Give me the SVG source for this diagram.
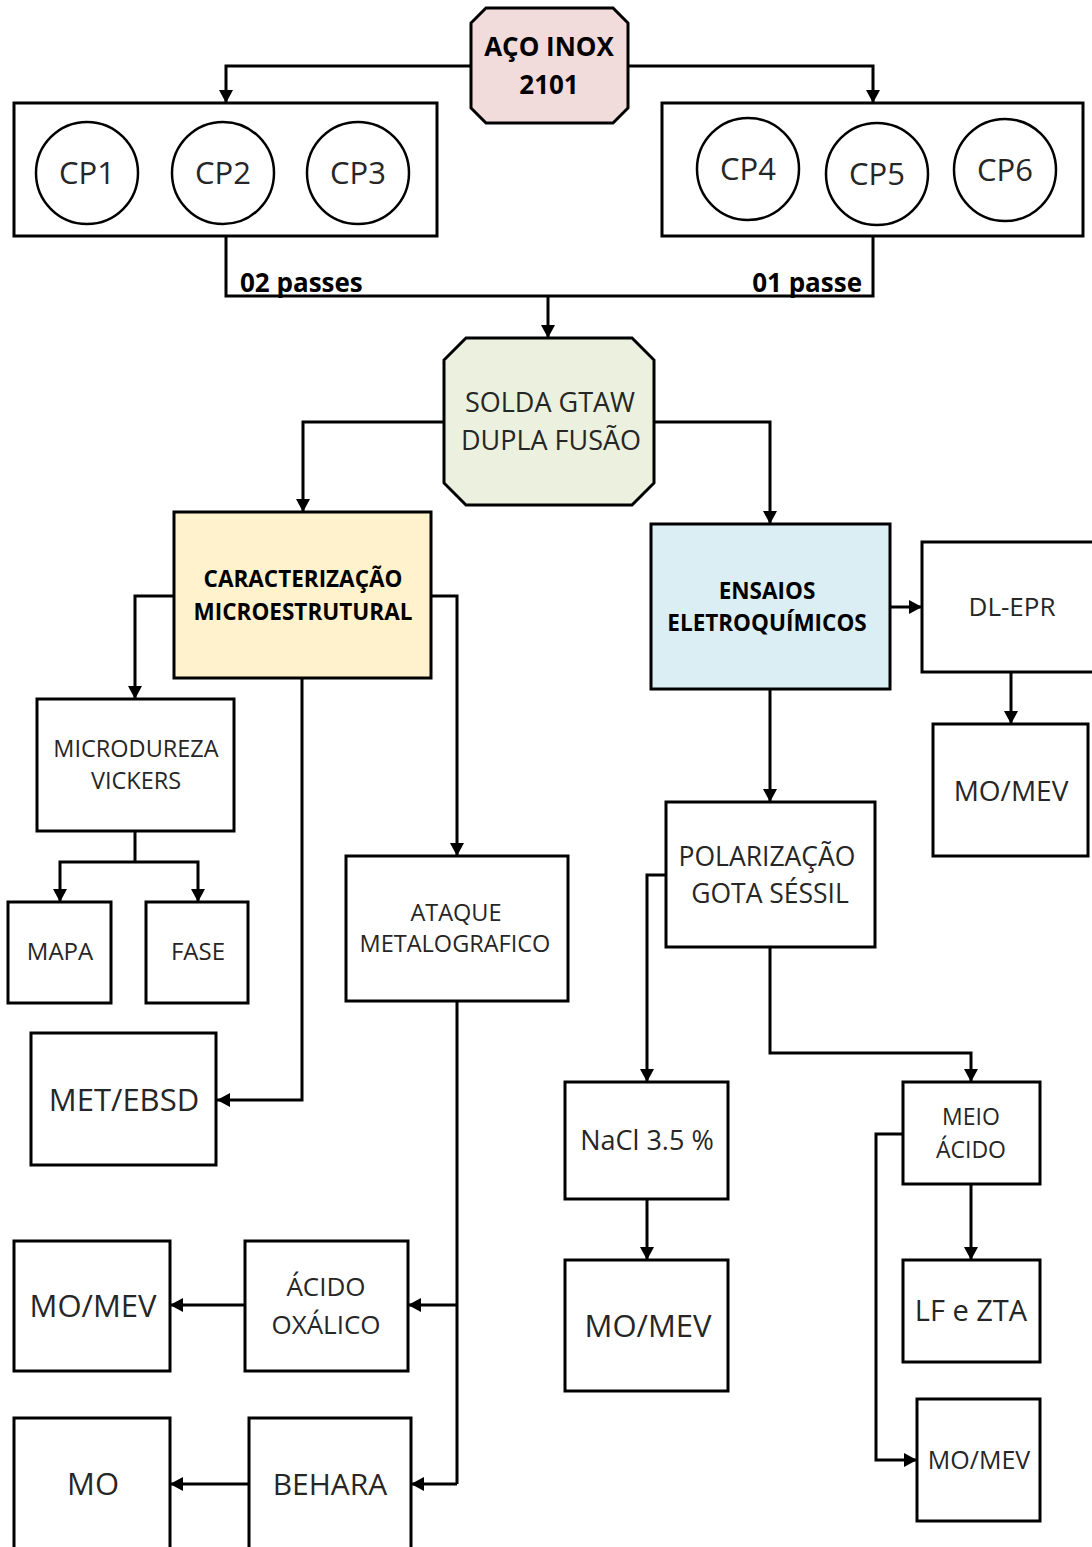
<svg xmlns="http://www.w3.org/2000/svg" width="1092" height="1547" viewBox="0 0 1092 1547">
<defs>
<marker id="ah" markerUnits="userSpaceOnUse" markerWidth="14" markerHeight="14" refX="13" refY="7" orient="auto">
<path d="M0,0 L13,7 L0,14 z" fill="#000"/>
</marker>
<style>
.box{fill:#fff;stroke:#000;stroke-width:3}
.circ{fill:#fff;stroke:#000;stroke-width:2.5}
.ln{fill:none;stroke:#000;stroke-width:3}
.arr{fill:none;stroke:#000;stroke-width:3;marker-end:url(#ah)}
.t{font-family:"Open Sans","Liberation Sans",sans-serif;fill:#262626;text-anchor:middle}
.b{font-family:"Open Sans","Liberation Sans",sans-serif;fill:#000;font-weight:bold;text-anchor:middle}
</style>
</defs>
<rect width="1092" height="1547" fill="#fff"/>
<g id="connectors">
<path class="arr" d="M471,66 H226 V103"/>
<path class="arr" d="M628,66 H873 V103"/>
<path class="ln" d="M226,236 V296 H873 V236"/>
<path class="arr" d="M548,296 V338"/>
<path class="arr" d="M444,422 H303 V512"/>
<path class="arr" d="M654,422 H770 V524"/>
<path class="arr" d="M174,596 H135 V699"/>
<path class="arr" d="M431,596 H457 V856"/>
<path class="arr" d="M302,678 V1100 H217"/>
<path class="ln" d="M135,831 V862"/>
<path class="arr" d="M135,862 H60 V902"/>
<path class="arr" d="M135,862 H198 V902"/>
<path class="ln" d="M457,1001 V1484"/>
<path class="arr" d="M457,1305 H408"/>
<path class="arr" d="M457,1484 H411"/>
<path class="arr" d="M245,1305 H170"/>
<path class="arr" d="M249,1484 H170"/>
<path class="arr" d="M890,607 H922"/>
<path class="arr" d="M1011,672 V724"/>
<path class="arr" d="M770,689 V802"/>
<path class="arr" d="M666,875 H647 V1082"/>
<path class="arr" d="M770,947 V1053 H971 V1082"/>
<path class="arr" d="M647,1199 V1260"/>
<path class="arr" d="M971,1184 V1260"/>
<path class="arr" d="M903,1134 H876 V1460 H917"/>
</g>
<g id="aco">
<polygon points="486,8 613,8 628,23 628,108 613,123 486,123 471,108 471,23" fill="#f2dcdb" stroke="#000" stroke-width="3"/>
<text class="b" x="549" y="56" font-size="26">AÇO INOX</text>
<text class="b" x="549" y="94" font-size="26">2101</text>
</g>
<g id="grupo1">
<rect class="box" x="14" y="103" width="423" height="133"/>
</g>
<g id="cp1"><circle class="circ" cx="87" cy="173" r="51"/><text class="t" x="87" y="184" font-size="31">CP1</text></g>
<g id="cp2"><circle class="circ" cx="223" cy="173" r="51"/><text class="t" x="223" y="184" font-size="31">CP2</text></g>
<g id="cp3"><circle class="circ" cx="358" cy="173" r="51"/><text class="t" x="358" y="184" font-size="31">CP3</text></g>
<g id="grupo2">
<rect class="box" x="662" y="103" width="421" height="133"/>
</g>
<g id="cp4"><circle class="circ" cx="748" cy="169" r="51"/><text class="t" x="748" y="180" font-size="31">CP4</text></g>
<g id="cp5"><circle class="circ" cx="877" cy="174" r="51"/><text class="t" x="877" y="185" font-size="31">CP5</text></g>
<g id="cp6"><circle class="circ" cx="1005" cy="170" r="51"/><text class="t" x="1005" y="181" font-size="31">CP6</text></g>
<g id="labels">
<text class="b" x="240" y="292" font-size="26" style="text-anchor:start">02 passes</text>
<text class="b" x="862" y="292" font-size="26" style="text-anchor:end">01 passe</text>
</g>
<g id="solda">
<polygon points="466,338 632,338 654,360 654,483 632,505 466,505 444,483 444,360" fill="#ebf1de" stroke="#000" stroke-width="3"/>
<text class="t" x="550" y="412" font-size="27">SOLDA GTAW</text>
<text class="t" x="551" y="450" font-size="27">DUPLA FUSÃO</text>
</g>
<g id="caracterizacao">
<rect x="174" y="512" width="257" height="166" fill="#fff2cc" stroke="#000" stroke-width="3"/>
<text class="b" x="303" y="587" font-size="22.5">CARACTERIZAÇÃO</text>
<text class="b" x="303" y="620" font-size="22.5">MICROESTRUTURAL</text>
</g>
<g id="microdureza">
<rect class="box" x="37" y="699" width="197" height="132"/>
<text class="t" x="136" y="757" font-size="23.5">MICRODUREZA</text>
<text class="t" x="136" y="789" font-size="23.5">VICKERS</text>
</g>
<g id="mapa">
<rect class="box" x="8" y="902" width="103" height="101"/>
<text class="t" x="60" y="960" font-size="24">MAPA</text>
</g>
<g id="fase">
<rect class="box" x="146" y="902" width="102" height="101"/>
<text class="t" x="198" y="960" font-size="24">FASE</text>
</g>
<g id="metebsd">
<rect class="box" x="31" y="1033" width="185" height="132"/>
<text class="t" x="124" y="1111" font-size="31">MET/EBSD</text>
</g>
<g id="ataque">
<rect class="box" x="346" y="856" width="222" height="145"/>
<text class="t" x="456" y="921" font-size="23.5">ATAQUE</text>
<text class="t" x="455" y="952" font-size="23.5">METALOGRAFICO</text>
</g>
<g id="acido-oxalico">
<rect class="box" x="245" y="1241" width="163" height="130"/>
<text class="t" x="326" y="1296" font-size="26">ÁCIDO</text>
<text class="t" x="326" y="1334" font-size="26">OXÁLICO</text>
</g>
<g id="momev1">
<rect class="box" x="14" y="1241" width="156" height="130"/>
<text class="t" x="93" y="1317" font-size="31">MO/MEV</text>
</g>
<g id="behara">
<rect class="box" x="249" y="1418" width="162" height="145"/>
<text class="t" x="330" y="1495" font-size="30">BEHARA</text>
</g>
<g id="mo">
<rect class="box" x="14" y="1418" width="156" height="145"/>
<text class="t" x="93" y="1495" font-size="31">MO</text>
</g>
<g id="ensaios">
<rect x="651" y="524" width="239" height="165" fill="#dbeef4" stroke="#000" stroke-width="3"/>
<text class="b" x="767" y="599" font-size="22.5">ENSAIOS</text>
<text class="b" x="767" y="631" font-size="22.5">ELETROQUÍMICOS</text>
</g>
<g id="dlepr">
<rect class="box" x="922" y="542" width="180" height="130"/>
<text class="t" x="1012" y="616" font-size="26">DL-EPR</text>
</g>
<g id="momev2">
<rect class="box" x="933" y="724" width="155" height="132"/>
<text class="t" x="1011" y="801" font-size="28">MO/MEV</text>
</g>
<g id="polarizacao">
<rect class="box" x="666" y="802" width="209" height="145"/>
<text class="t" x="767" y="866" font-size="26.5">POLARIZAÇÃO</text>
<text class="t" x="770" y="903" font-size="26.5">GOTA SÉSSIL</text>
</g>
<g id="nacl">
<rect class="box" x="565" y="1082" width="163" height="117"/>
<text class="t" x="647" y="1150" font-size="27">NaCl 3.5 %</text>
</g>
<g id="momev3">
<rect class="box" x="565" y="1260" width="163" height="131"/>
<text class="t" x="648" y="1337" font-size="31">MO/MEV</text>
</g>
<g id="meio-acido">
<rect class="box" x="903" y="1082" width="137" height="102"/>
<text class="t" x="971" y="1125" font-size="23">MEIO</text>
<text class="t" x="971" y="1158" font-size="23">ÁCIDO</text>
</g>
<g id="lfzta">
<rect class="box" x="903" y="1260" width="137" height="102"/>
<text class="t" x="971" y="1321" font-size="29">LF e ZTA</text>
</g>
<g id="momev4">
<rect class="box" x="917" y="1399" width="123" height="122"/>
<text class="t" x="979" y="1469" font-size="25">MO/MEV</text>
</g>
</svg>
